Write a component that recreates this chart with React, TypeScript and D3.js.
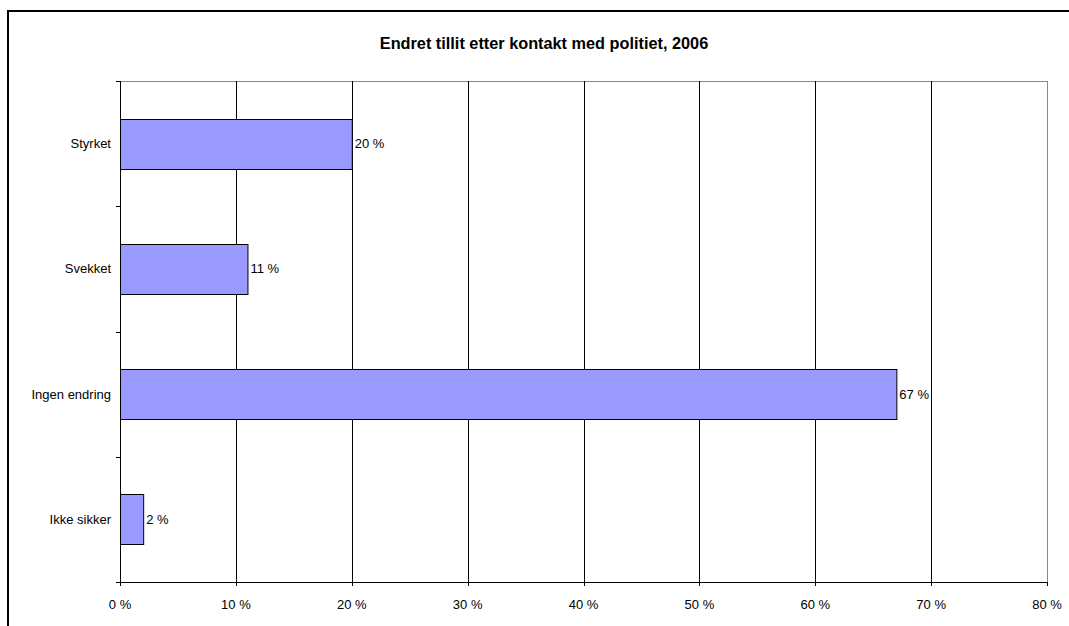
import React from "react";
import * as d3 from "d3";

const categories = ["Styrket", "Svekket", "Ingen endring", "Ikke sikker"];
const values = [20, 11, 67, 2];
const xTicks = [0, 10, 20, 30, 40, 50, 60, 70, 80];
const title = "Endret tillit etter kontakt med politiet, 2006";

const W = 1069;
const H = 626;
const left = 120;
const right = 1047;
const top = 81;
const bottom = 582;

export default function App() {
  const x = d3.scaleLinear().domain([0, 80]).range([left, right]);
  const y = d3.scaleBand<string>().domain(categories).range([top, bottom]).paddingInner(0.6).paddingOuter(0.3);
  const band = (bottom - top) / categories.length;
  const font = "'Liberation Sans', Arial, sans-serif";
  return (
    <svg width={W} height={H} style={{ position: "absolute", left: 0, top: 0 }} fontFamily={font}>
      <rect x={0} y={0} width={W} height={H} fill="#fff" />
      <rect x={8} y={11} width={W + 20} height={H + 20} fill="none" stroke="#000" strokeWidth={2} />
      <text x={544} y={49} textAnchor="middle" fontWeight="bold" fontSize={16.3}>{title}</text>
      {/* plot border top/right */}
      <line x1={left} x2={right} y1={top + 0.5} y2={top + 0.5} stroke="#888" />
      <line x1={right + 0.5} x2={right + 0.5} y1={top} y2={bottom} stroke="#888" />
      {/* gridlines */}
      {xTicks.slice(1, -1).map((t) => (
        <line key={t} x1={Math.round(x(t)) + 0.5} x2={Math.round(x(t)) + 0.5} y1={top} y2={bottom} stroke="#000" />
      ))}
      {/* bars */}
      {categories.map((c, i) => (
        <g key={c}>
          <rect x={left + 0.5} y={Math.round(y(c)!) + 0.5} width={x(values[i]) - left} height={Math.round(y.bandwidth())} fill="#9999FF" stroke="#000" />
          <text x={x(values[i]) + 3} y={y(c)! + y.bandwidth() / 2} dy="0.35em" fontSize={13}>{values[i]} %</text>
          <text x={111} y={y(c)! + y.bandwidth() / 2} dy="0.35em" fontSize={13} textAnchor="end">{c}</text>
        </g>
      ))}
      {/* y axis */}
      <line x1={left + 0.5} x2={left + 0.5} y1={top} y2={bottom + 4} stroke="#000" />
      {d3.range(categories.length + 1).map((k) => (
        <line key={k} x1={left - 4} x2={left} y1={Math.round(top + k * band) + 0.5} y2={Math.round(top + k * band) + 0.5} stroke="#000" />
      ))}
      {/* x axis */}
      <line x1={left - 4} x2={right + 1} y1={bottom + 0.5} y2={bottom + 0.5} stroke="#000" />
      {xTicks.map((t) => (
        <g key={t}>
          <line x1={Math.round(x(t)) + 0.5} x2={Math.round(x(t)) + 0.5} y1={bottom} y2={bottom + 4} stroke="#000" />
          <text x={x(t)} y={604} dy="0.35em" textAnchor="middle" fontSize={13}>{t} %</text>
        </g>
      ))}
    </svg>
  );
}
